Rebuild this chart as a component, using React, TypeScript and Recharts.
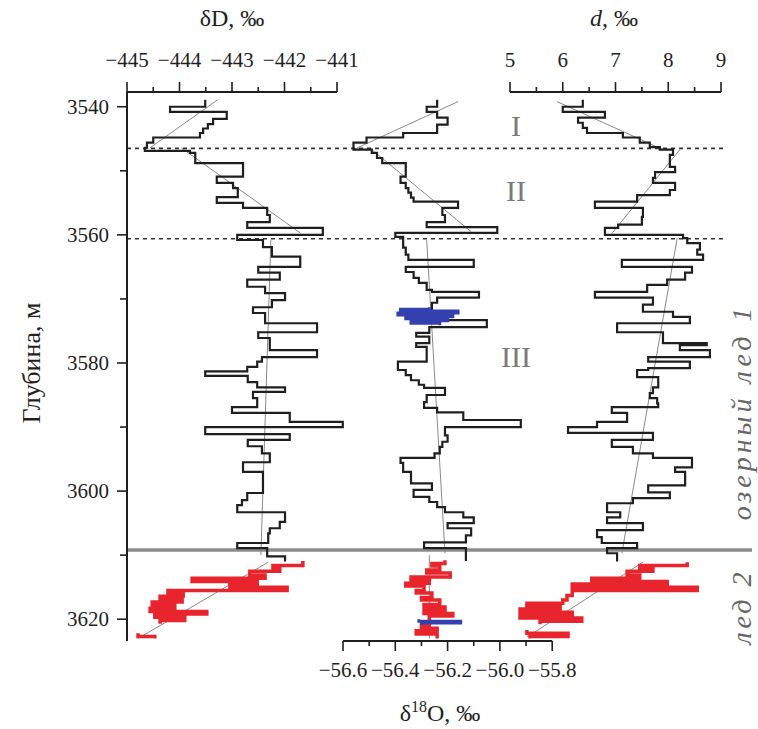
import React from "react";
import { ComposedChart, Scatter, XAxis, YAxis, ReferenceLine } from "recharts";

// [глубина, м; значение] — каждая ступень держит значение до следующей глубины
const dDProfile: [number, number][] = [
  [3538.9, -443.51], [3540.0, -444.18], [3540.8, -443.1], [3541.9, -443.36], [3542.7, -443.46],
  [3543.4, -443.55], [3544.1, -443.61], [3544.8, -444.5], [3545.6, -444.62], [3546.4, -444.66],
  [3546.9, -443.8], [3547.2, -443.7], [3548.8, -442.79], [3550.9, -443.29], [3551.9, -442.98],
  [3552.7, -442.89], [3554.1, -443.29], [3555.0, -442.79], [3555.8, -442.33], [3556.9, -442.28],
  [3558.0, -442.71], [3558.9, -441.27], [3560.0, -442.9], [3560.8, -442.41], [3561.9, -442.24],
  [3563.4, -441.7], [3565.0, -442.5], [3565.9, -442.09], [3567.0, -442.71], [3568.1, -442.37],
  [3569.1, -441.99], [3570.2, -442.24], [3571.3, -442.6], [3572.2, -442.37], [3573.8, -441.38],
  [3575.2, -442.5], [3576.1, -442.28], [3578.0, -441.38], [3579.1, -442.43], [3579.8, -442.52],
  [3580.6, -442.71], [3581.3, -443.51], [3582.0, -442.7], [3583.0, -442.52], [3583.8, -441.99],
  [3584.5, -442.6], [3585.5, -442.52], [3586.9, -443.0], [3587.8, -441.9], [3589.2, -440.89],
  [3590.0, -443.51], [3591.1, -441.9], [3592.0, -442.7], [3593.0, -442.43], [3594.1, -442.28],
  [3595.5, -442.79], [3597.0, -442.41], [3600.3, -442.71], [3601.4, -442.81], [3602.2, -442.9],
  [3603.3, -441.99], [3604.8, -442.09], [3605.8, -442.28], [3606.6, -442.31], [3608.1, -442.9],
  [3608.9, -442.33], [3610.2, -441.99],
];
const dDEnd = 3611.0;
const dDRed: [number, number][] = [
  [3610.9, -441.65], [3611.6, -442.22], [3612.0, -442.09], [3612.5, -442.66], [3613.1, -442.37],
  [3613.6, -443.76], [3614.1, -442.52], [3614.5, -443.04], [3615.0, -441.95], [3615.5, -444.22],
  [3615.9, -443.93], [3616.4, -444.37], [3616.9, -443.95], [3617.3, -444.52], [3617.8, -444.09],
  [3618.3, -444.56], [3618.8, -443.48], [3619.2, -444.47], [3619.7, -443.9], [3620.2, -444.37],
];
const dDRedEnd = 3620.7;
const dDRedTail: [number, number][] = [[3622.2, -444.79], [3622.7, -444.47]];

const o18Profile: [number, number][] = [
  [3538.9, -56.24], [3540.0, -56.28], [3540.8, -56.24], [3541.7, -56.2], [3542.8, -56.24],
  [3544.1, -56.37], [3544.8, -56.51], [3545.6, -56.56], [3546.7, -56.49], [3547.2, -56.47],
  [3548.0, -56.45], [3548.8, -56.36], [3550.9, -56.38], [3551.9, -56.36], [3552.7, -56.35],
  [3553.4, -56.34], [3554.2, -56.33], [3554.8, -56.16], [3555.8, -56.22], [3556.9, -56.21],
  [3558.0, -56.28], [3558.8, -56.01], [3559.7, -56.4], [3560.3, -56.37], [3562.0, -56.36],
  [3563.1, -56.35], [3563.9, -56.1], [3565.0, -56.36], [3565.8, -56.33], [3566.7, -56.31],
  [3567.5, -56.28], [3568.6, -56.26], [3568.9, -56.08], [3569.8, -56.24], [3570.6, -56.26],
  [3573.3, -56.05], [3574.4, -56.27], [3575.3, -56.32], [3575.9, -56.27], [3576.9, -56.32],
  [3577.5, -56.28], [3579.8, -56.39], [3581.1, -56.36], [3581.9, -56.34], [3582.7, -56.31],
  [3583.4, -56.29], [3583.9, -56.21], [3585.0, -56.28], [3586.1, -56.29], [3587.0, -56.24],
  [3587.7, -56.14], [3588.9, -55.92], [3590.0, -56.21], [3591.3, -56.2], [3592.3, -56.22],
  [3593.1, -56.23], [3594.1, -56.25], [3594.8, -56.38], [3595.6, -56.37], [3597.0, -56.34],
  [3598.8, -56.26], [3599.8, -56.33], [3600.9, -56.27], [3601.7, -56.24], [3602.5, -56.21],
  [3603.3, -56.14], [3604.1, -56.1], [3605.0, -56.2], [3605.8, -56.11], [3606.9, -56.13],
  [3608.0, -56.29], [3608.9, -56.13],
];
const o18End = 3610.9;
const o18Red: [number, number][] = [
  [3610.8, -56.21], [3611.3, -56.26], [3611.7, -56.23], [3612.3, -56.28], [3612.8, -56.19],
  [3613.4, -56.34], [3613.9, -56.27], [3614.4, -56.36], [3614.8, -56.29], [3615.5, -56.32],
  [3615.9, -56.26], [3616.6, -56.3], [3617.0, -56.23], [3617.7, -56.29], [3618.1, -56.21],
  [3618.6, -56.29], [3619.1, -56.18], [3619.5, -56.27], [3620.9, -56.3], [3621.4, -56.24],
  [3621.8, -56.32], [3622.3, -56.24],
];
const o18RedEnd = 3623.0;
const o18Blue: [number, number][] = [
  [3571.3, -56.27], [3571.6, -56.38], [3571.9, -56.16], [3572.2, -56.39], [3572.5, -56.18],
  [3572.8, -56.36], [3573.1, -56.2], [3573.4, -56.34], [3573.8, -56.23],
];
const o18BlueEnd = 3574.1;
const o18Blue2: [number, number][] = [[3620.0, -56.31], [3620.3, -56.15], [3620.6, -56.3]];
const o18Blue2End = 3620.9;

const dexProfile: [number, number][] = [
  [3538.9, 6.38], [3540.0, 6.0], [3540.8, 6.8], [3541.7, 6.29], [3542.5, 6.38],
  [3543.3, 6.46], [3544.1, 7.14], [3544.8, 7.46], [3545.6, 7.65], [3546.3, 7.84],
  [3546.7, 8.09], [3547.5, 8.03], [3549.4, 8.13], [3550.2, 7.75], [3551.1, 7.71],
  [3551.9, 8.13], [3553.0, 8.03], [3553.8, 7.41], [3554.8, 6.61], [3555.8, 7.52],
  [3557.2, 7.5], [3558.4, 7.05], [3558.9, 6.8], [3560.0, 8.28], [3560.5, 8.36],
  [3561.3, 8.6], [3562.3, 8.55], [3563.1, 8.66], [3563.9, 7.12], [3565.0, 8.45],
  [3565.9, 8.32], [3567.0, 7.98], [3567.8, 7.6], [3568.9, 6.61], [3569.8, 7.71],
  [3570.9, 7.52], [3572.0, 8.09], [3572.8, 8.41], [3573.8, 7.03], [3575.2, 7.9],
  [3576.9, 8.73], [3577.2, 8.22], [3578.0, 8.79], [3579.1, 7.62], [3579.8, 8.41],
  [3580.8, 7.62], [3581.1, 7.41], [3582.2, 7.81], [3583.8, 7.71], [3584.7, 7.65],
  [3585.5, 7.79], [3586.3, 7.81], [3586.9, 6.93], [3587.8, 7.22], [3589.2, 6.65],
  [3590.0, 6.1], [3590.9, 7.71], [3592.0, 6.93], [3593.1, 7.33], [3594.1, 7.71],
  [3594.8, 8.45], [3596.3, 8.13], [3597.0, 8.32], [3599.1, 7.62], [3600.2, 8.03],
  [3601.1, 7.33], [3601.9, 6.84], [3603.3, 7.09], [3604.1, 6.84], [3605.0, 7.52],
  [3606.1, 6.65], [3607.2, 6.74], [3608.1, 7.41], [3608.9, 6.84], [3609.7, 7.03],
];
const dexEnd = 3611.0;
const dexRed: [number, number][] = [
  [3611.1, 8.36], [3611.6, 7.46], [3612.0, 7.71], [3612.5, 7.22], [3613.1, 7.46],
  [3613.6, 6.55], [3614.1, 7.98], [3614.5, 6.18], [3615.0, 8.55], [3615.5, 6.18],
  [3616.3, 6.08], [3617.0, 6.0], [3617.5, 5.32], [3618.0, 5.95], [3618.4, 5.19],
  [3618.9, 6.18], [3619.4, 5.19], [3619.8, 6.36], [3620.3, 5.57],
];
const dexRedEnd = 3620.8;
const dexRedTail: [number, number][] = [[3621.7, 5.32], [3622.2, 6.1], [3622.7, 5.38]];

// линии тренда: [значение, глубина] начала и конца
const dDTrends: [number, number][][] = [
  [[-443.27, 3538.9], [-444.56, 3546.4]],
  [[-443.97, 3546.4], [-441.7, 3559.7]],
  [[-442.26, 3560.8], [-442.45, 3610.0]],
  [[-442.31, 3611.1], [-444.79, 3623.0]],
];
const o18Trends: [number, number][][] = [
  [[-56.16, 3539.2], [-56.56, 3546.7]],
  [[-56.49, 3546.7], [-56.11, 3559.5]],
  [[-56.28, 3560.8], [-56.21, 3609.7]],
  [[-56.27, 3610.0], [-56.27, 3623.0]],
];
const dexTrends: [number, number][][] = [
  [[5.89, 3539.2], [7.9, 3546.7]],
  [[8.22, 3546.7], [6.93, 3559.8]],
  [[8.17, 3560.5], [7.12, 3609.7]],
  [[7.52, 3611.1], [5.32, 3622.8]],
];

const depthTicks = [3540, 3550, 3560, 3570, 3580, 3590, 3600, 3610, 3620];
const dDTicks = [-445, -444.5, -444, -443.5, -443, -442.5, -442, -441.5, -441];
const o18Ticks = [-56.6, -56.5, -56.4, -56.3, -56.2, -56.1, -56.0, -55.9, -55.8];
const dexTicks = [5, 5.5, 6, 6.5, 7, 7.5, 8, 8.5, 9];
const zoneBounds = [3546.5, 3560.6];
const lakeIceBase = 3609.2;

const W = 758;
const H = 729;
const PLOT_L = 127;
const PLOT_R = 752;
const PLOT_T = 92;
const PLOT_B = 641;
const AXIS_H = 1; // axes must have some height or recharts skips them
const DEPTH_DOMAIN: [number, number] = [3537.7, 3623.4];
const FONT = '"Liberation Serif", "DejaVu Serif", serif';
const INK = "#1f1f1f";
const RED = "#e8242c";
const BLUE = "#3340b0";
const TREND = "#8a8a8a";

// each panel axis occupies part of the shared plot width
function spanDomain(v0: number, x0: number, pxPerUnit: number): [number, number] {
  return [v0 - (x0 - PLOT_L) / pxPerUnit, v0 + (PLOT_R - x0) / pxPerUnit];
}
const DD_DOMAIN = spanDomain(-445, 127, 52.5);
const O18_DOMAIN = spanDomain(-56.6, 343, 261.5);
const DEX_DOMAIN = spanDomain(5, 510, 52.75);

function steps(rows: [number, number][], end: number) {
  const pts: { v: number; depth: number }[] = [];
  rows.forEach(([d, v], i) => {
    const next = i + 1 < rows.length ? rows[i + 1][0] : end;
    pts.push({ v, depth: d }, { v, depth: next });
  });
  return pts;
}

const trendPts = (t: [number, number][]) => t.map(([v, depth]) => ({ v, depth }));
const noDot = () => <g />;
const minus = (s: string) => s.replace("-", "\u2212");

function series(key: string, xId: string, data: { v: number; depth: number }[], color: string, width: number) {
  return (
    <Scatter
      key={key}
      xAxisId={xId}
      data={data}
      fill={color}
      line={{ stroke: color, strokeWidth: width, strokeLinejoin: "miter" }}
      lineType="joint"
      shape={noDot}
      isAnimationActive={false}
    />
  );
}

function TopTick(props: any) {
  const { x, payload } = props;
  const v = payload.value as number;
  const major = Number.isInteger(v);
  return (
    <g>
      <line x1={x} x2={x} y1={PLOT_T - (major ? 10 : 5)} y2={PLOT_T} stroke={INK} strokeWidth={1.6} />
      {major && (
        <text x={x} y={PLOT_T - 25} textAnchor="middle" fontSize={21} fontFamily={FONT} fill={INK}>
          {minus(String(v))}
        </text>
      )}
    </g>
  );
}

function BottomTick(props: any) {
  const { x, payload } = props;
  const v = payload.value as number;
  const major = Math.round(Math.abs(v) * 10) % 2 === 0;
  return (
    <g>
      <line x1={x} x2={x} y1={PLOT_B} y2={PLOT_B + (major ? 10 : 5)} stroke={INK} strokeWidth={1.6} />
      {major && (
        <text x={x} y={PLOT_B + 36} textAnchor="middle" fontSize={21} fontFamily={FONT} fill={INK}>
          {minus(v.toFixed(1))}
        </text>
      )}
    </g>
  );
}

function DepthTick(props: any) {
  const { y, payload } = props;
  const v = payload.value as number;
  const major = v % 20 === 0;
  return (
    <g>
      <line x1={PLOT_L - (major ? 10 : 7)} x2={PLOT_L} y1={y} y2={y} stroke={INK} strokeWidth={1.6} />
      {major && (
        <text x={PLOT_L - 18} y={y + 7} textAnchor="end" fontSize={21} fontFamily={FONT} fill={INK}>
          {v}
        </text>
      )}
    </g>
  );
}

export default function App() {
  const top = DEPTH_DOMAIN[0];
  const bottom = DEPTH_DOMAIN[1];
  return (
    <div style={{ position: "absolute", left: 0, top: 0, width: W, height: H, background: "#fff" }}>
      <ComposedChart
        width={W}
        height={H}
        margin={{ top: PLOT_T - 2 * AXIS_H, right: W - PLOT_R, bottom: H - PLOT_B - AXIS_H, left: 0 }}
      >
        <YAxis
          dataKey="depth"
          type="number"
          domain={DEPTH_DOMAIN}
          reversed
          ticks={depthTicks}
          width={PLOT_L}
          tick={<DepthTick />}
          tickLine={false}
          axisLine={{ stroke: INK, strokeWidth: 2 }}
        />
        <XAxis xAxisId="dD" dataKey="v" type="number" orientation="top" domain={DD_DOMAIN} ticks={dDTicks}
          height={AXIS_H} tick={<TopTick />} tickLine={false} axisLine={false} interval={0} />
        <XAxis xAxisId="o18" dataKey="v" type="number" orientation="bottom" domain={O18_DOMAIN} ticks={o18Ticks}
          height={AXIS_H} tick={<BottomTick />} tickLine={false} axisLine={false} interval={0} />
        <XAxis xAxisId="dex" dataKey="v" type="number" orientation="top" domain={DEX_DOMAIN} ticks={dexTicks}
          height={AXIS_H} tick={<TopTick />} tickLine={false} axisLine={false} interval={0} />

        <ReferenceLine xAxisId="dD" segment={[{ x: -445, y: top }, { x: -441, y: top }]} stroke={INK} strokeWidth={2} />
        <ReferenceLine xAxisId="dex" segment={[{ x: 5, y: top }, { x: 9, y: top }]} stroke={INK} strokeWidth={2} />
        <ReferenceLine xAxisId="o18" segment={[{ x: -56.6, y: bottom }, { x: -55.8, y: bottom }]} stroke={INK} strokeWidth={2} />
        {zoneBounds.map((z) => (
          <ReferenceLine key={z} xAxisId="dex" segment={[{ x: DEX_DOMAIN[0], y: z }, { x: 9.05, y: z }]}
            stroke="#333" strokeWidth={1.6} strokeDasharray="4 4" />
        ))}
        <ReferenceLine xAxisId="dex" y={lakeIceBase} stroke="#8c8c8c" strokeWidth={3.5} />

        {dDTrends.map((t, i) => series(`tdD${i}`, "dD", trendPts(t), TREND, 1))}
        {o18Trends.map((t, i) => series(`to18${i}`, "o18", trendPts(t), TREND, 1))}
        {dexTrends.map((t, i) => series(`tdex${i}`, "dex", trendPts(t), TREND, 1))}

        {series("dD", "dD", steps(dDProfile, dDEnd), INK, 2.2)}
        {series("o18", "o18", steps(o18Profile, o18End), INK, 2.2)}
        {series("dex", "dex", steps(dexProfile, dexEnd), INK, 2.2)}

        {series("dDRed", "dD", steps(dDRed, dDRedEnd), RED, 3.5)}
        {series("dDRed2", "dD", steps(dDRedTail, 3623.0), RED, 3.5)}
        {series("o18Red", "o18", steps(o18Red, o18RedEnd), RED, 3.5)}
        {series("dexRed", "dex", steps(dexRed, dexRedEnd), RED, 3.5)}
        {series("dexRed2", "dex", steps(dexRedTail, 3623.0), RED, 3.5)}

        {series("o18Blue", "o18", steps(o18Blue, o18BlueEnd), BLUE, 3)}
        {series("o18Blue2", "o18", steps(o18Blue2, o18Blue2End), BLUE, 3)}
      </ComposedChart>

      <svg width={W} height={H} style={{ position: "absolute", left: 0, top: 0, pointerEvents: "none" }} fontFamily={FONT}>
        <text x={232} y={26} fontSize={24} textAnchor="middle" fill={INK}>δD, ‰</text>
        <text x={614} y={26} fontSize={24} textAnchor="middle" fill={INK}>
          <tspan fontStyle="italic">d</tspan>, ‰
        </text>
        <text x={440} y={721} fontSize={24} textAnchor="middle" fill={INK}>
          δ<tspan dy={-9} fontSize={16}>18</tspan><tspan dy={9}>O, ‰</tspan>
        </text>
        <text transform="translate(40,363) rotate(-90)" fontSize={26} textAnchor="middle" fill={INK}>Глубина, м</text>
        <text x={516} y={136} fontSize={30} textAnchor="middle" fill="#7a7a7a">I</text>
        <text x={516} y={201} fontSize={30} textAnchor="middle" fill="#7a7a7a">II</text>
        <text x={516} y={367} fontSize={30} textAnchor="middle" fill="#7a7a7a">III</text>
        <text transform="translate(751,412) rotate(-90)" fontSize={28} fontStyle="italic" textAnchor="middle"
          fill="#666" letterSpacing={4}>озерный лед 1</text>
        <text transform="translate(751,607) rotate(-90)" fontSize={28} fontStyle="italic" textAnchor="middle"
          fill="#666" letterSpacing={3}>лед 2</text>
      </svg>
    </div>
  );
}
